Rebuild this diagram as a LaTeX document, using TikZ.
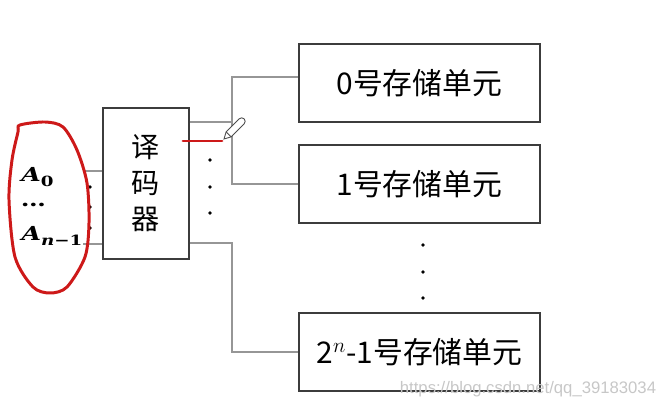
\documentclass[tikz,border=0pt]{standalone}
\usepackage{fontspec}
\usepackage{tikz}
\usetikzlibrary{positioning, calc}
\newfontfamily\cjk{Noto Sans CJK SC}
\newfontfamily\addrfont{DejaVu Serif}
\setsansfont{Liberation Sans}
\definecolor{wiregray}{RGB}{150,150,150}
\definecolor{boxgray}{RGB}{60,60,60}
\definecolor{markred}{RGB}{205,25,25}
\newcommand\addrsub[1]{\raisebox{-0.3em}{\fontsize{8}{9}\selectfont #1}}

\begin{document}
\begin{tikzpicture}[
  cellbox/.style={draw=boxgray, line width=0.9pt, minimum width=4.82cm, minimum height=1.56cm, inner sep=0pt, font=\cjk\fontsize{17}{20}\selectfont},
  wire/.style={draw=wiregray, line width=0.6pt},
  addr/.style={inner sep=0pt, font=\addrfont\bfseries\fontsize{11}{13}\selectfont},
  markpen/.style={draw=markred, line width=1.7pt, line cap=round}
]
\useasboundingbox (0,0) rectangle (13.18,8.16);
% Decoder
\node[draw=boxgray, line width=0.9pt, minimum width=1.72cm, minimum height=3.02cm, align=center, font=\cjk\fontsize{16}{20.5}\selectfont] (dec) at (2.92,4.49) {译\\码\\器};
% Storage cells
\node[cellbox] (cell0) at (8.39,6.5) {0号存储单元};
\node[cellbox] (cell1) at (8.39,4.48) {1号存储单元};
\node[cellbox] (cellN) at (8.39,1.12) {2$^{n}$-1号存储单元};
% Address inputs
\node[addr] (a0) at (0.75,4.62) {\scalebox{1.3}[1]{\textit{A}\addrsub{0}}};
\node[addr] (adots) at (0.67,4.06) {\scalebox{1.3}[1]{…}};
\node[addr] (an) at (1.04,3.44) {\scalebox{1.3}[1]{\textit{A}\addrsub{\textit{n}−1}}};
\coordinate (inA) at (1.66,4.74);
\coordinate (inB) at (1.66,3.28);
\draw[wire] (inA) -- (inA -| dec.west);
\draw[wire] (inB) -- (inB -| dec.west);
% Decoder outputs
\coordinate (split0) at (4.64,5.72);
\coordinate (splitN) at (4.64,3.3);
\draw[wire] (split0 -| dec.east) -- (split0);
\draw[wire] ([yshift=0.12cm]cell0.west) -| (split0) |- (cell1.west);
\draw[wire] (splitN -| dec.east) -- (splitN) |- (cellN.west);
% Dots
\foreach \x/\y in {1.8/4.42, 1.8/4.02, 1.8/3.6, 4.2/4.96, 4.2/4.42, 4.2/3.9, 8.46/3.26, 8.46/2.72, 8.46/2.2}
  \fill (\x,\y) circle (1.1pt);
% Hand marks
\draw[markpen] plot[smooth cycle] coordinates {(0.40,5.66) (0.90,5.72) (1.26,5.62) (1.54,5.16) (1.74,4.50) (1.78,3.70) (1.70,3.02) (1.34,2.42) (1.00,2.30) (0.66,2.42) (0.30,3.02) (0.18,4.16) (0.24,4.96) (0.36,5.52)};
\draw[markpen] (3.66,5.34) -- (4.44,5.34);
\begin{scope}[shift={(4.48,5.38)}, rotate=45]
  \draw[black!70, line width=0.5pt, fill=white] (0,0) -- (0.13,0.07) -- (0.5,0.07) arc (90:-90:0.07) -- (0.13,-0.07) -- cycle;
  \draw[black!70, line width=0.5pt] (0.13,0.07) -- (0.13,-0.07);
\end{scope}
% Watermark
\node[text=black!22, font=\sffamily\fontsize{9.5}{11}\selectfont] (mark) at (10.56,0.38) {https://blog.csdn.net/qq\_39183034};
\end{tikzpicture}
\end{document}
